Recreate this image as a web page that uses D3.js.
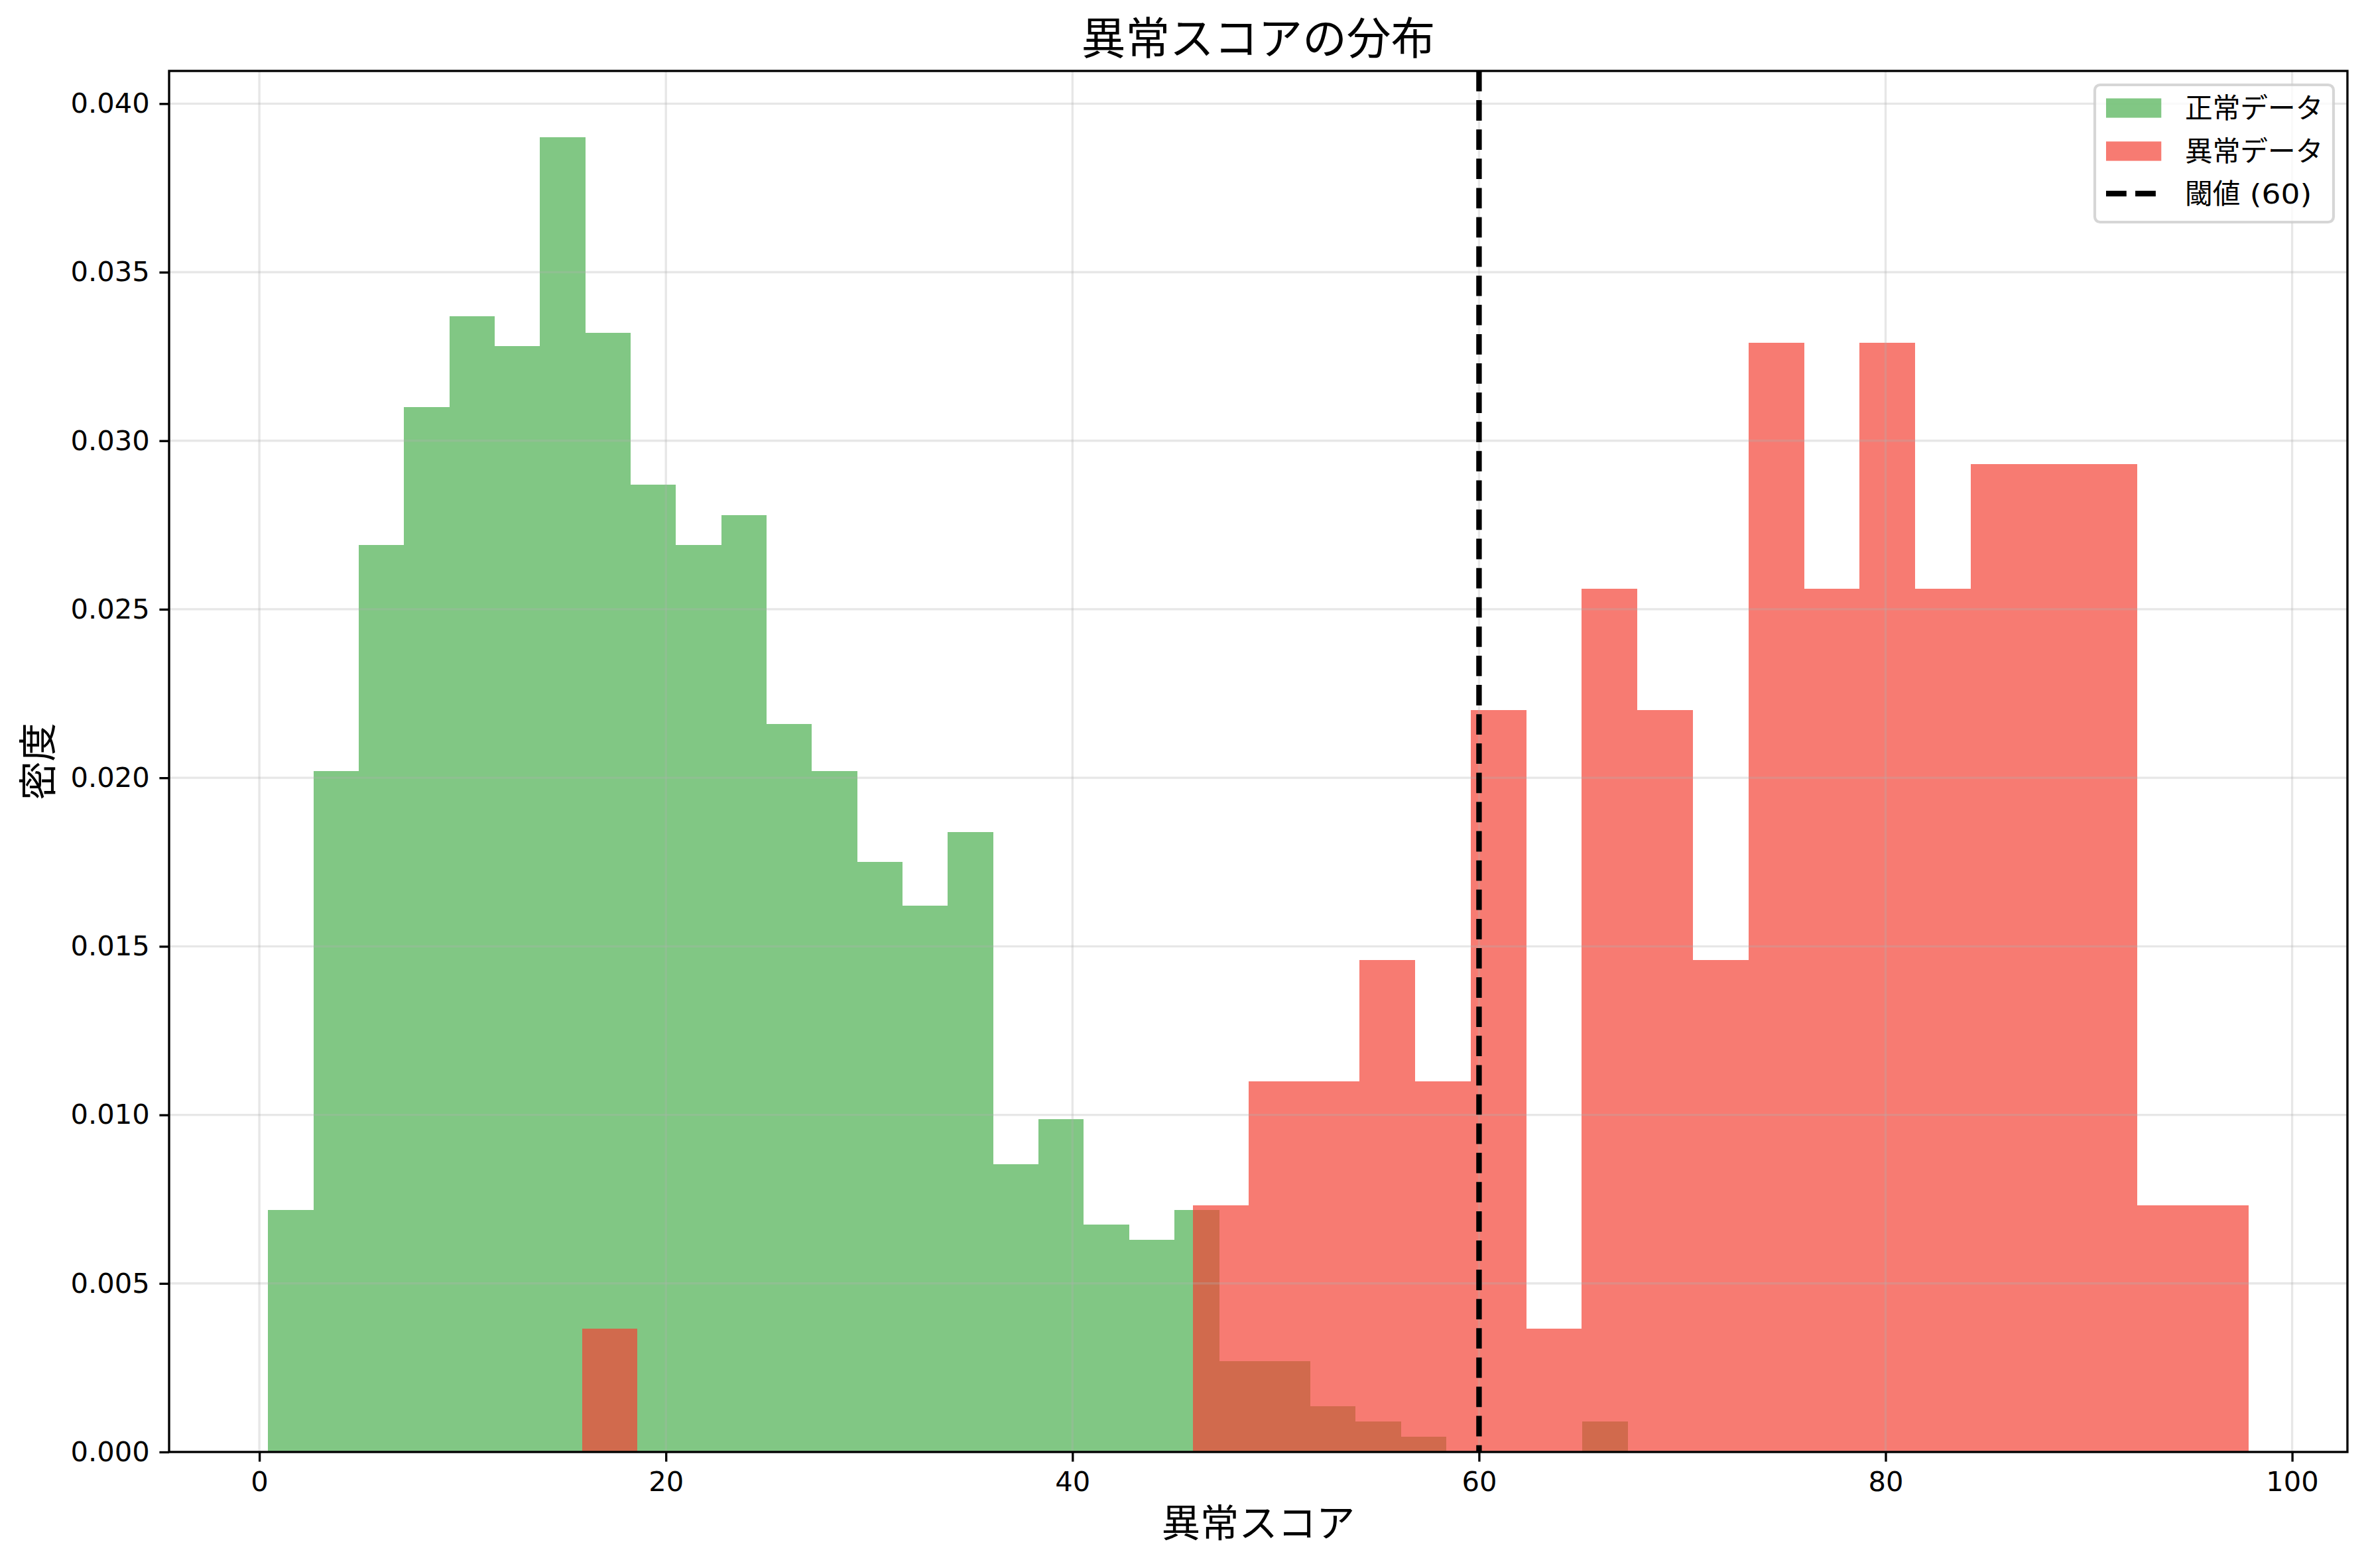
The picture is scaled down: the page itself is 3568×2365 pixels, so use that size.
<!DOCTYPE html>
<html>
<head>
<meta charset="utf-8">
<script src="https://cdn.jsdelivr.net/npm/d3@7"></script>
<style>
  html, body { margin: 0; padding: 0; background: #ffffff; }
  svg { display: block; }
</style>
</head>
<body>
<div id="chart"></div>
<script>
// ---------- data ----------
const title = "異常スコアの分布";
const xLabel = "異常スコア";
const yLabel = "密度";
const seriesNames = ["正常データ", "異常データ"];
const thresholdLabelParts = ["閾値", " (60)"];
const threshold = 60;

// histogram bins: 30 equal bins between min and max of each series
const normalRange = [0.43, 67.31];
const anomalyRange = [15.87, 97.85];
const binCount = 30;

// density per bin
const normalDensity = [
  0.00718, 0.0202, 0.0269, 0.0310, 0.0337, 0.0328, 0.0390, 0.0332, 0.0287, 0.0269,
  0.0278, 0.0216, 0.0202, 0.0175, 0.0162, 0.0184, 0.00853, 0.00988, 0.00674, 0.00629,
  0.00718, 0.00270, 0.00270, 0.00135, 0.00090, 0.00045, 0, 0, 0, 0.00090
];
const anomalyDensity = [
  0.00366, 0, 0, 0, 0, 0, 0, 0, 0, 0,
  0, 0.00732, 0.0110, 0.0110, 0.0146, 0.0110, 0.0220, 0.00366, 0.0256, 0.0220,
  0.0146, 0.0329, 0.0256, 0.0329, 0.0256, 0.0293, 0.0293, 0.0293, 0.00732, 0.00732
];

const xTicks = [0, 20, 40, 60, 80, 100];
const yTicks = [0, 0.005, 0.010, 0.015, 0.020, 0.025, 0.030, 0.035, 0.040];
const xDomain = [-4.44, 102.72];
const yDomain = [0, 0.04097];

// ---------- layout ----------
const W = 3568, H = 2365;
const M = { left: 255, right: 3540, top: 107, bottom: 2190 };
const green = "#4CAF50", red = "#F44336", alpha = 0.7;
const cjk = "'Noto Sans CJK JP', 'Noto Sans CJK SC', sans-serif";
const latin = "'DejaVu Sans', sans-serif";

const svg = d3.select("#chart").append("svg")
  .attr("width", W).attr("height", H)
  .attr("viewBox", `0 0 ${W} ${H}`);
svg.append("rect").attr("width", W).attr("height", H).attr("fill", "#fff");

const x = d3.scaleLinear().domain(xDomain).range([M.left, M.right]);
const y = d3.scaleLinear().domain(yDomain).range([M.bottom, M.top]);

function bins(range, dens) {
  const w = (range[1] - range[0]) / binCount;
  return dens.map((d, i) => ({ x0: range[0] + i * w, x1: range[0] + (i + 1) * w, d }));
}

const plot = svg.append("g");

// bars
function drawHist(data, color) {
  plot.append("g").selectAll("rect").data(data.filter(b => b.d > 0)).join("rect")
    .attr("x", b => x(b.x0))
    .attr("width", b => x(b.x1) - x(b.x0))
    .attr("y", b => y(b.d))
    .attr("height", b => y(0) - y(b.d))
    .attr("fill", color)
    .attr("fill-opacity", alpha)
    .attr("shape-rendering", "crispEdges");
}
drawHist(bins(normalRange, normalDensity), green);
drawHist(bins(anomalyRange, anomalyDensity), red);

// grid (above bars, as in matplotlib)
const grid = svg.append("g").attr("stroke", "#b0b0b0").attr("stroke-opacity", 0.3).attr("stroke-width", 3.33);
grid.selectAll("line.gx").data(xTicks).join("line")
  .attr("x1", d => x(d)).attr("x2", d => x(d)).attr("y1", M.top).attr("y2", M.bottom);
grid.selectAll("line.gy").data(yTicks).join("line")
  .attr("y1", d => y(d)).attr("y2", d => y(d)).attr("x1", M.left).attr("x2", M.right);

// threshold
svg.append("line")
  .attr("x1", x(threshold)).attr("x2", x(threshold))
  .attr("y1", M.top).attr("y2", M.bottom)
  .attr("stroke", "#000").attr("stroke-width", 8.33)
  .attr("stroke-dasharray", "30.8,13.3");

// axes
const xAxis = d3.axisBottom(x).tickValues(xTicks).tickFormat(d3.format("d"))
  .tickSize(14.6).tickPadding(14.6);
const yAxis = d3.axisLeft(y).tickValues(yTicks).tickFormat(d3.format(".3f"))
  .tickSize(14.6).tickPadding(14.6);

const gx = svg.append("g").attr("transform", `translate(0,${M.bottom})`).call(xAxis);
const gy = svg.append("g").attr("transform", `translate(${M.left},0)`).call(yAxis);
[gx, gy].forEach(g => {
  g.select(".domain").remove();
  g.selectAll(".tick line").attr("stroke", "#000").attr("stroke-width", 3.33);
  g.selectAll(".tick text").attr("font-family", latin).attr("font-size", 41.67).attr("fill", "#000");
});
gx.selectAll(".tick text").attr("dy", "0.71em");
gy.selectAll(".tick text").attr("dy", "0.32em");

// spines
svg.append("rect")
  .attr("x", M.left).attr("y", M.top)
  .attr("width", M.right - M.left).attr("height", M.bottom - M.top)
  .attr("fill", "none").attr("stroke", "#000").attr("stroke-width", 3.33);

// title & labels
svg.append("text").text(title)
  .attr("x", (M.left + M.right) / 2).attr("y", 82)
  .attr("text-anchor", "middle").attr("font-family", cjk).attr("font-size", 66.7).attr("fill", "#000");
svg.append("text").text(xLabel)
  .attr("x", (M.left + M.right) / 2).attr("y", 2318)
  .attr("text-anchor", "middle").attr("font-family", cjk).attr("font-size", 58.3).attr("fill", "#000");
svg.append("text").text(yLabel)
  .attr("transform", `translate(78,${(M.top + M.bottom) / 2}) rotate(-90)`)
  .attr("text-anchor", "middle").attr("font-family", cjk).attr("font-size", 58.3).attr("fill", "#000");

// legend
const lg = svg.append("g");
lg.append("rect")
  .attr("x", 3159).attr("y", 128).attr("width", 360).attr("height", 207)
  .attr("rx", 8).attr("ry", 8)
  .attr("fill", "#fff").attr("fill-opacity", 0.8)
  .attr("stroke", "#cccccc").attr("stroke-opacity", 0.8).attr("stroke-width", 4.17);
const legendItems = [
  { parts: [seriesNames[0]], kind: "patch", color: green },
  { parts: [seriesNames[1]], kind: "patch", color: red },
  { parts: thresholdLabelParts, kind: "line", color: "#000" }
];
const rowY = [163, 228, 292];
legendItems.forEach((it, i) => {
  const cy = rowY[i];
  if (it.kind === "patch") {
    lg.append("rect").attr("x", 3176).attr("y", cy - 14.6).attr("width", 83.3).attr("height", 29.2)
      .attr("fill", it.color).attr("fill-opacity", alpha);
  } else {
    lg.append("line").attr("x1", 3176).attr("x2", 3259.3).attr("y1", cy).attr("y2", cy)
      .attr("stroke", it.color).attr("stroke-width", 8.33).attr("stroke-dasharray", "30.8,13.3");
  }
  const t = lg.append("text")
    .attr("x", 3295).attr("y", cy).attr("dy", "0.36em")
    .attr("font-family", cjk).attr("font-size", 41.67).attr("fill", "#000")
    .attr("xml:space", "preserve").style("white-space", "pre");
  t.append("tspan").text(it.parts[0]);
  if (it.parts.length > 1) {
    t.append("tspan").text(it.parts[1])
      .attr("font-family", latin)
      .attr("textLength", 108).attr("lengthAdjust", "spacingAndGlyphs");
  }
});
</script>
</body>
</html>
